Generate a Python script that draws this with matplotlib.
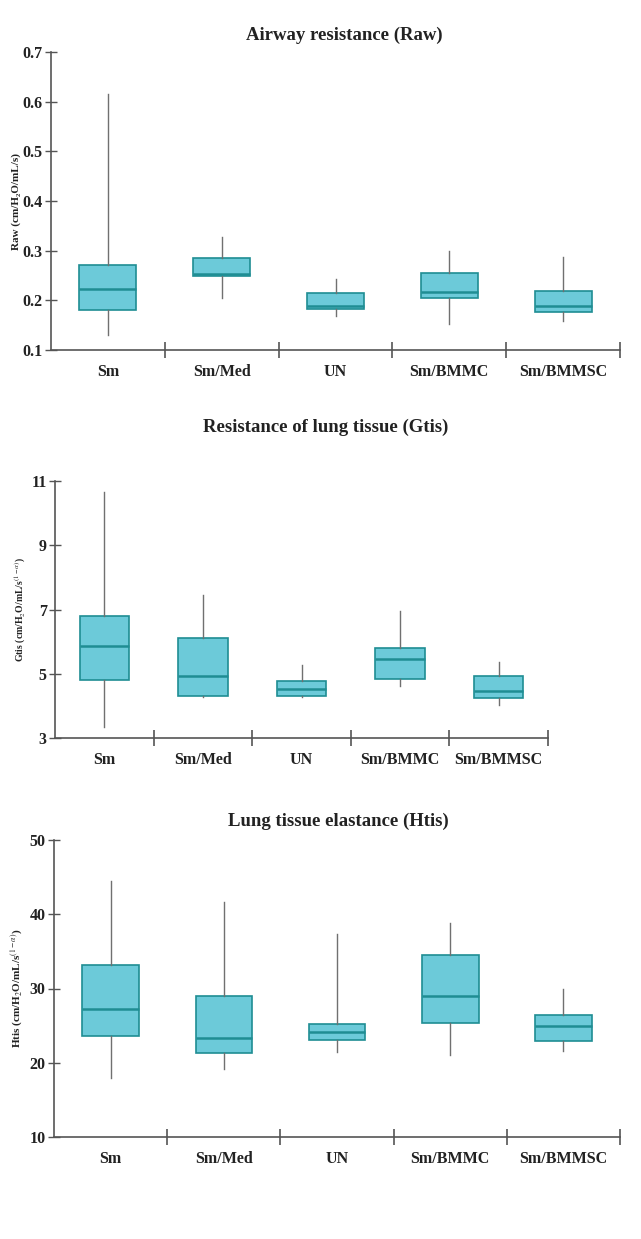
import numpy as np
import matplotlib.pyplot as plt

plt.rcParams['font.family'] = ['Liberation Serif', 'DejaVu Serif']
plt.rcParams['mathtext.fontset'] = 'stix'

groups = ["Sm", "Sm/Med", "UN", "Sm/BMMC", "Sm/BMMSC"]

# Airway resistance (Raw)
raw_lo = [0.130, 0.205, 0.169, 0.152, 0.159]
raw_q1 = [0.181, 0.250, 0.183, 0.204, 0.176]
raw_med = [0.223, 0.253, 0.189, 0.217, 0.189]
raw_q3 = [0.272, 0.285, 0.215, 0.256, 0.219]
raw_hi = [0.616, 0.327, 0.242, 0.300, 0.288]

# Resistance of lung tissue (Gtis)
gtis_lo = [3.35, 4.27, 4.28, 4.61, 4.04]
gtis_q1 = [4.80, 4.30, 4.30, 4.84, 4.23]
gtis_med = [5.87, 4.92, 4.53, 5.46, 4.45]
gtis_q3 = [6.80, 6.10, 4.76, 5.80, 4.94]
gtis_hi = [10.66, 7.45, 5.28, 6.96, 5.38]

# Lung tissue elastance (Htis)
htis_lo = [18.0, 19.2, 21.5, 21.0, 21.6]
htis_q1 = [23.6, 21.3, 23.1, 25.4, 22.9]
htis_med = [27.2, 23.3, 24.2, 29.0, 25.0]
htis_q3 = [33.1, 29.0, 25.2, 34.5, 26.4]
htis_hi = [44.5, 41.7, 37.3, 38.8, 30.0]

box_face = "#6ccad9"
box_edge = "#1f8d93"
whisk_col = "#707070"
axis_col = "#555555"
text_col = "#222222"

fig = plt.figure(figsize=(6.41, 12.39), dpi=100)
W, H = 641, 1239


def make_axes(left, right, top, bottom):
    return fig.add_axes([left / W, 1 - bottom / H, (right - left) / W, (bottom - top) / H])


def draw_panel(ax, lo, q1, med, q3, hi, ylim, yticks, ytl, title, ylabel,
               title_x, title_y, lab_size, lab_x):
    stats = []
    for i in range(len(groups)):
        stats.append(dict(whislo=lo[i], q1=q1[i], med=med[i], q3=q3[i], whishi=hi[i], fliers=[]))
    pos = np.arange(len(groups)) + 0.5
    ax.bxp(stats, positions=pos, widths=0.5, showcaps=False, showfliers=False,
           patch_artist=True,
           boxprops=dict(facecolor=box_face, edgecolor=box_edge, linewidth=1.2),
           medianprops=dict(color=box_edge, linewidth=1.8),
           whiskerprops=dict(color=whisk_col, linewidth=1.0))
    ax.set_xlim(0, 5)
    ax.set_ylim(*ylim)
    for s in ["top", "right"]:
        ax.spines[s].set_visible(False)
    for s in ["left", "bottom"]:
        ax.spines[s].set_color(axis_col)
        ax.spines[s].set_linewidth(1.2)
    ax.set_xticks([1, 2, 3, 4, 5])
    ax.set_xticklabels([])
    ax.set_xticks(pos, minor=True)
    ax.set_xticklabels(groups, minor=True, fontsize=11.5, fontweight="bold", color=text_col)
    ax.tick_params(axis="x", which="major", direction="inout", length=12, width=1.2, color=axis_col)
    ax.tick_params(axis="x", which="minor", length=0, pad=10)
    ax.set_yticks(yticks)
    ax.set_yticklabels(ytl, fontsize=11.5, fontweight="bold", color=text_col)
    ax.tick_params(axis="y", direction="inout", length=8, width=1.0, color=axis_col, pad=2)
    ax.set_ylabel(ylabel, fontsize=lab_size, fontweight="bold", color=text_col)
    # label sits in the narrow strip left of the tick labels (lab_x = right edge, px)
    x0 = ax.get_position().x0 * W
    ax.yaxis.set_label_coords((lab_x - x0) / (ax.get_position().width * W), 0.5)
    fig.text(title_x / W, 1 - title_y / H, title,
             ha="center", va="center", fontsize=13.5, fontweight="bold", color=text_col)
    ax.set_facecolor("none")


ax1 = make_axes(51, 620, 52, 350)
draw_panel(ax1, raw_lo, raw_q1, raw_med, raw_q3, raw_hi, (0.1, 0.7),
           [0.1, 0.2, 0.3, 0.4, 0.5, 0.6, 0.7], ["0.1", "0.2", "0.3", "0.4", "0.5", "0.6", "0.7"],
           "Airway resistance (Raw)", "Raw (cm/H\u2082O/mL/s)", 344, 35, 8, 21)

ax2 = make_axes(55, 548, 481, 738)
draw_panel(ax2, gtis_lo, gtis_q1, gtis_med, gtis_q3, gtis_hi, (3, 11),
           [3, 5, 7, 9, 11], ["3", "5", "7", "9", "11"],
           "Resistance of lung tissue (Gtis)",
           r"Gtis (cm/H$_2$O/mL/s$^{(1-\alpha)}$)", 326, 427, 7, 28)

ax3 = make_axes(54, 620, 840, 1137)
draw_panel(ax3, htis_lo, htis_q1, htis_med, htis_q3, htis_hi, (10, 50),
           [10, 20, 30, 40, 50], ["10", "20", "30", "40", "50"],
           "Lung tissue elastance (Htis)",
           r"Htis (cm/H$_2$O/mL/s$^{(1-\alpha)}$)", 338, 821, 8, 25)

fig.savefig("out.png", dpi=100)
